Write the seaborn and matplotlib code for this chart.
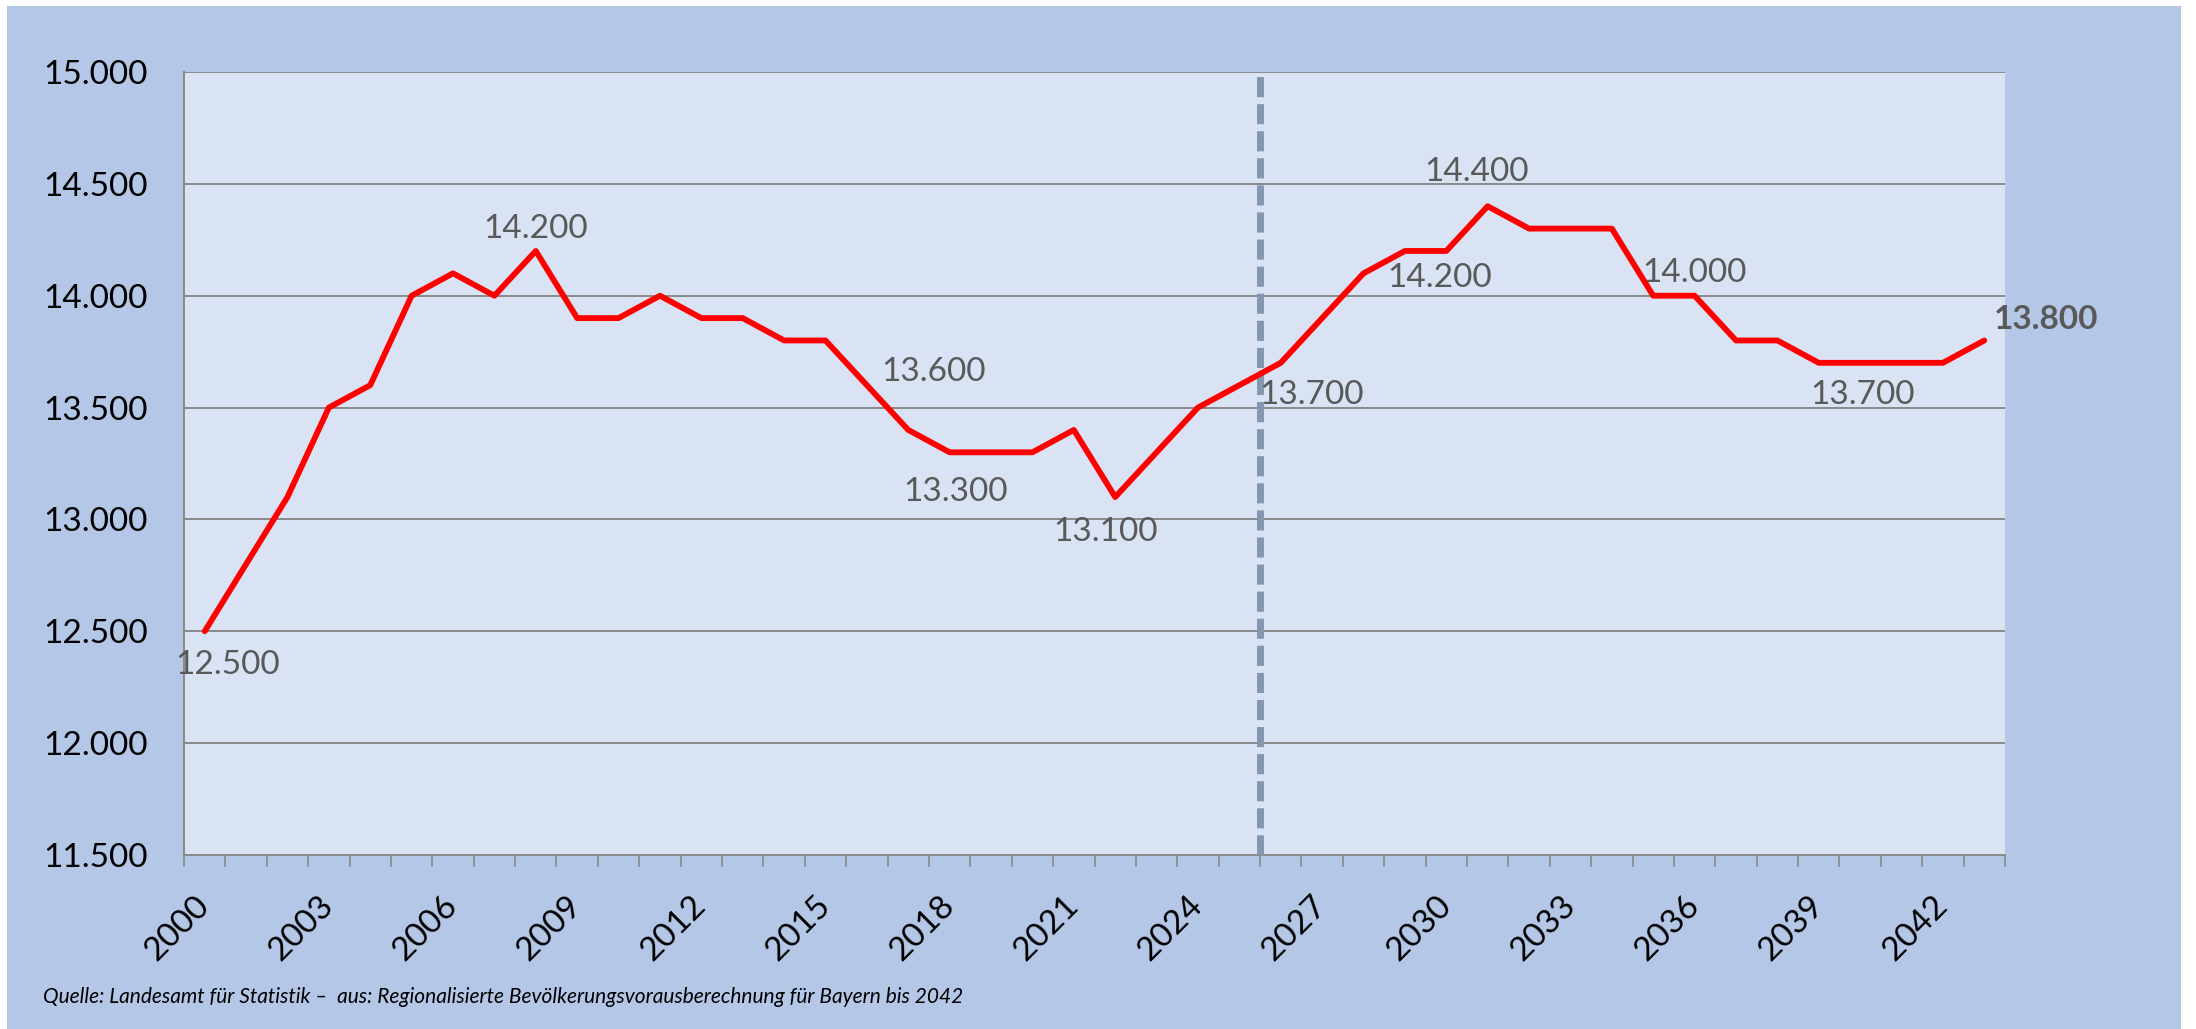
import numpy as np
import pandas as pd
import matplotlib
matplotlib.use("Agg")
import matplotlib.pyplot as plt
import matplotlib.ticker as mticker
from matplotlib.patches import Rectangle
import seaborn as sns

# ---------------- data ----------------
years = list(range(2000, 2044))
values = [12500, 12800, 13100, 13500, 13600, 14000, 14100, 14000, 14200, 13900,
          13900, 14000, 13900, 13900, 13800, 13800, 13600, 13400, 13300, 13300,
          13300, 13400, 13100, 13300, 13500, 13600, 13700, 13900, 14100, 14200,
          14200, 14400, 14300, 14300, 14300, 14000, 14000, 13800, 13800, 13700,
          13700, 13700, 13700, 13800]
y_ticks = [11500, 12000, 12500, 13000, 13500, 14000, 14500, 15000]
label_step = 3
labelled_years = [2000, 2008, 2016, 2018, 2022, 2026, 2030, 2031, 2036, 2040, 2043]
bold_years = [2043]
forecast_start = 2026
source_text = ("Quelle: Landesamt für Statistik –  aus: Regionalisierte "
               "Bevölkerungsvorausberechnung für Bayern bis 2042")

# label offsets (pixels) relative to point
label_offsets = {2000: (23, -34), 2008: (0, 22), 2016: (67, 13), 2018: (6, -40),
                 2022: (-10, -35), 2026: (31, -32), 2030: (-7, -27), 2031: (-11, 34),
                 2036: (0, 23), 2040: (2, -32), 2043: (62, 21)}

df = pd.DataFrame({"year": years, "value": values})
df["pos"] = np.arange(len(df))

def fmt(v):
    return f"{int(v):,}".replace(",", ".")

# ---------------- style ----------------
sns.set_style("white")
plt.rcParams["font.family"] = ["Lato", "DejaVu Sans"]
FS = 24

W, H = 2196, 1029
fig = plt.figure(figsize=(W / 100, H / 100), dpi=100, facecolor="white")
fig.patches.append(Rectangle((7 / W, 0), (2181 - 7) / W, (H - 6) / H,
                             transform=fig.transFigure, facecolor="#B4C7E7",
                             edgecolor="none", zorder=-10))

left, right, top, bottom = 184, 2005, 72, 855
ax = fig.add_axes([left / W, 1 - bottom / H, (right - left) / W, (bottom - top) / H])
ax.set_facecolor("#DAE3F3")

sns.lineplot(data=df, x="pos", y="value", ax=ax, color="#FF0000", linewidth=4.2,
             zorder=5)

# forecast divider
fpos = df.loc[df["year"] == forecast_start, "pos"].iloc[0] - 0.5
ax.axvline(fpos, color="#8497B0", linewidth=5, linestyle=(0, (2.9, 1.0)), zorder=4)

# axes
ax.set_xlim(-0.5, len(df) - 0.5)
ax.set_ylim(y_ticks[0], y_ticks[-1])
ax.set_yticks(y_ticks)
ax.yaxis.set_major_formatter(mticker.FuncFormatter(lambda v, p: fmt(v)))
ax.grid(axis="y", color="#898989", linewidth=1.4)
ax.grid(axis="x", visible=False)
ax.set_axisbelow(True)

major = [p for p, y in zip(df["pos"], df["year"]) if (y - years[0]) % label_step == 0]
ax.set_xticks(major)
ax.set_xticklabels([str(df.loc[p, "year"]) for p in major])
ax.set_xticks(np.arange(-0.5, len(df), 1.0), minor=True)
ax.tick_params(axis="x", which="major", length=0, pad=33, labelsize=FS, colors="black")
ax.tick_params(axis="x", which="minor", length=8.6, width=1.2, color="#898989",
               direction="out", bottom=True)
ax.tick_params(axis="y", length=0, pad=26, labelsize=FS, colors="black")
for lbl in ax.get_xticklabels():
    lbl.set_rotation(45)
    lbl.set_ha("right")
    lbl.set_va("center")
    lbl.set_rotation_mode("anchor")

for side in ["top", "right"]:
    ax.spines[side].set_visible(False)
for side in ["left", "bottom"]:
    ax.spines[side].set_color("#898989")
    ax.spines[side].set_linewidth(1.4)

ax.set_xlabel("")
ax.set_ylabel("")

# data labels
for yr in labelled_years:
    row = df[df["year"] == yr].iloc[0]
    dx, dy = label_offsets[yr]
    ax.annotate(fmt(row["value"]), (row["pos"], row["value"]),
                xytext=(dx, dy), textcoords="offset pixels",
                ha="center", va="center", fontsize=FS, color="#595959",
                fontweight="bold" if yr in bold_years else "normal",
                annotation_clip=False, zorder=6)

fig.text(43 / W, 1 - 997 / H, source_text, ha="left", va="center",
         fontsize=15, style="italic", color="black")

fig.savefig("out.png", dpi=100, facecolor="white")
